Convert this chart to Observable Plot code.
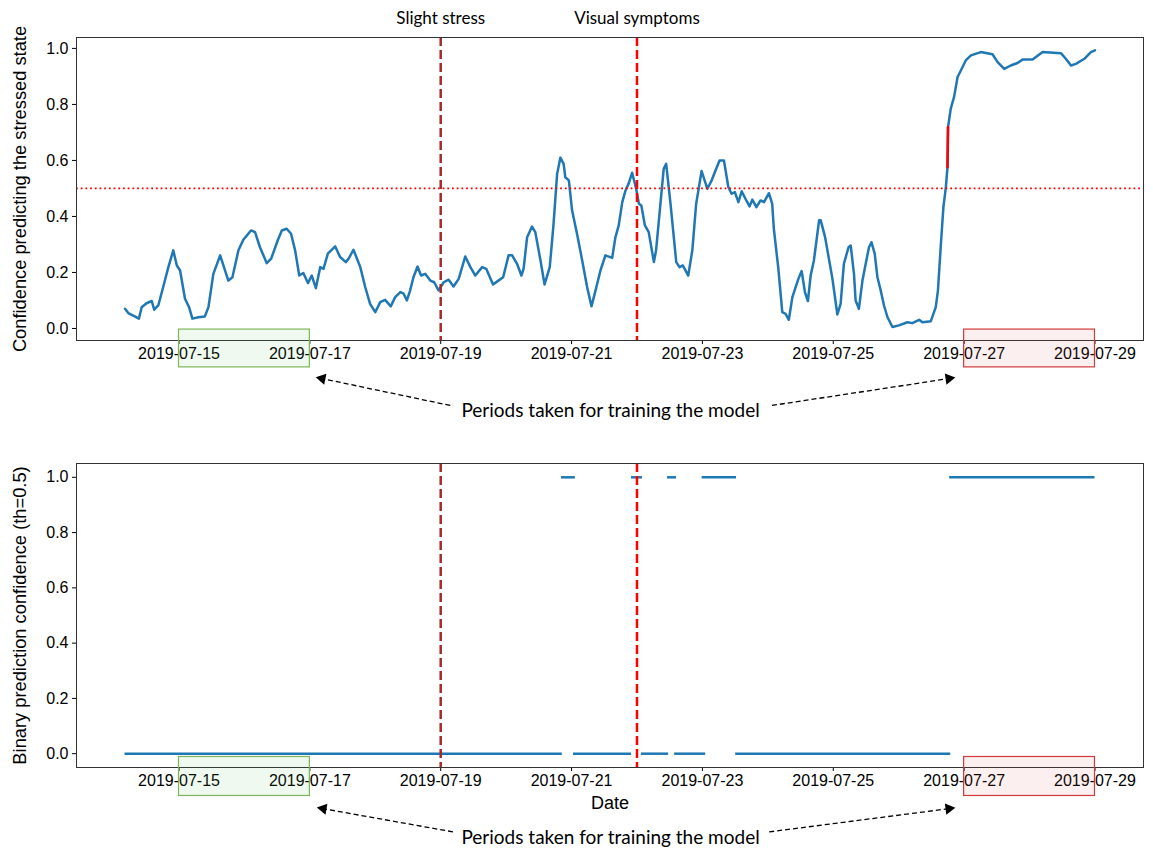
<!DOCTYPE html>
<html><head><meta charset="utf-8">
<script src="https://cdn.jsdelivr.net/npm/d3@7"></script>
<script src="https://cdn.jsdelivr.net/npm/@observablehq/plot@0.6"></script>
<style>body{margin:0;background:#fff} #chart svg{display:block}</style>
</head><body><div id="chart"></div>
<script>
// ---- data (hours since 2019-07-14 00:00 UTC) ----
const confHours = [4.2,5.4,7.2,9.3,10.3,12.1,14.0,14.9,16.4,18.2,20.1,21.9,23.2,24.4,26.2,27.7,28.9,31.1,33.5,34.8,36.6,39.1,42.1,43.6,45.8,47.6,50.4,51.9,53.7,56.2,57.8,60.2,61.7,63.5,65.1,66.6,68.1,69.6,71.3,72.7,74.2,75.8,77.0,78.6,79.8,81.3,83.1,85.2,86.2,88.0,89.3,
90.5,92.3,94.1,96.0,97.8,99.6,101.7,103.3,105.2,106.4,107.6,108.8,110.0,111.5,112.8,114.3,116.2,117.6,119.2,121.1,122.9,124.7,126.6,129.0,130.9,132.7,135.2,136.7,139.2,140.9,142.9,144.9,146.2,148.0,149.6,150.4,151.7,153.5,154.7,156.6,158.1,160.0,161.4,162.7,163.9,165.1,165.7,167.0,168.2,170.0,171.9,173.7,175.3,176.8,178.6,
180.4,182.9,184.1,185.3,186.6,187.8,189.0,190.2,191.7,192.7,193.6,194.9,196.3,198.2,199.0,200.6,201.8,202.7,204.3,206.4,207.6,208.8,210.8,212.3,213.7,215.7,217.8,219.4,220.8,222.3,223.9,225.5,226.7,227.9,229.2,230.4,232.1,233.3,234.3,235.8,237.3,238.6,240.4,241.6,242.2,243.8,245.3,246.5,247.7,249.0,250.2,251.2,252.4,253.6,254.7,255.7,256.9,258.8,259.4,261.0,262.4,263.7,265.5,266.7,267.9,269.6,270.4,
271.6,272.2,273.4,274.7,275.9,277.1,278.0,279.2,280.2,281.4,282.6,283.9,285.7,288.1,291.2,293.0,295.5,296.7,299.8,301.6,302.4,303.4,304.4,305.3,305.9,306.1,307.1,308.3,309.6,310.8,312.6,314.5,318.1,322.4,324.3,326.7,329.1,331.6,333.4,337.1,340.8,347.5,349.3,351.2,353.0,356.1,358.5,360.0];
const confValues = [0.070,0.055,0.046,0.035,0.076,0.090,0.098,0.067,0.082,0.148,0.219,0.279,0.225,0.207,0.106,0.076,0.035,0.040,0.043,0.076,0.195,0.261,0.171,0.183,0.279,0.317,0.350,0.344,0.290,0.233,0.249,0.314,0.350,0.356,0.338,0.279,0.189,0.198,0.162,0.189,0.144,0.219,0.213,0.267,0.279,0.293,0.255,0.237,0.249,0.281,0.249,
0.219,0.148,0.088,0.058,0.094,0.102,0.079,0.112,0.130,0.124,0.100,0.136,0.183,0.221,0.189,0.195,0.171,0.165,0.136,0.165,0.174,0.150,0.177,0.257,0.219,0.189,0.219,0.213,0.157,0.169,0.183,0.261,0.261,0.231,0.189,0.213,0.326,0.364,0.344,0.243,0.157,0.219,0.374,0.552,0.610,0.588,0.540,0.529,0.421,0.338,0.243,0.148,0.079,0.136,0.207,
0.261,0.252,0.326,0.368,0.451,0.493,0.519,0.556,0.499,0.445,0.439,0.368,0.344,0.237,0.279,0.445,0.570,0.588,0.445,0.237,0.219,0.225,0.189,0.279,0.445,0.562,0.499,0.529,0.564,0.600,0.600,0.505,0.481,0.487,0.451,0.490,0.457,0.436,0.460,0.433,0.457,0.451,0.483,0.445,0.356,0.219,0.058,0.052,0.031,0.112,0.148,0.177,0.205,0.130,0.098,0.189,0.243,0.386,0.386,0.326,0.249,0.177,0.050,0.088,0.231,0.290,0.296,
0.195,0.100,0.070,0.171,0.231,0.290,0.308,0.267,0.183,0.136,0.082,0.040,0.005,0.011,0.022,0.019,0.031,0.022,0.026,0.076,0.136,0.290,0.433,0.505,0.576,0.719,0.785,0.826,0.898,0.921,0.957,0.975,0.987,0.979,0.951,0.927,0.939,0.948,0.960,0.960,0.987,0.983,0.963,0.939,0.945,0.963,0.987,0.993];
const highlightHours = [305.9, 306.1];
const highlightValues = [0.576, 0.719];
const binStartHours = [4.2,164.3,168.7,190.0,193.6,203.2,205.8,215.9,228.2,306.7];
const binEndHours   = [164.6,169.4,190.0,194.0,203.6,206.5,217.2,228.5,307.1,360.0];
const binValues     = [0,1,0,1,0,1,0,1,0,1];
const tickDates = ["2019-07-15","2019-07-17","2019-07-19","2019-07-21","2019-07-23","2019-07-25","2019-07-27","2019-07-29"];
const yTicks = [0,0.2,0.4,0.6,0.8,1.0];
const eventDates = ["2019-07-19","2019-07-22"];
const eventLabels = ["Slight stress","Visual symptoms"];
const trainStarts = ["2019-07-15","2019-07-27"];
const trainEnds = ["2019-07-17","2019-07-29"];
const threshold = 0.5;
const topYLabel = "Confidence predicting the stressed state";
const bottomYLabel = "Binary prediction confidence (th=0.5)";
const xLabel = "Date";
const noteText = "Periods taken for training the model";

// ---- build ----
const t0 = Date.UTC(2019, 6, 14);
const toDate = h => new Date(t0 + h * 3600e3);
const conf = confHours.map((h, i) => ({date: toDate(h), value: confValues[i]}));
const highlight = highlightHours.map((h, i) => ({date: toDate(h), value: highlightValues[i]}));
const bins = binStartHours.map((h, i) => ({start: toDate(h), end: toDate(binEndHours[i]), value: binValues[i]}));
const ticks = tickDates.map(d => new Date(d));
const events = eventDates.map((d, i) => ({date: new Date(d), label: eventLabels[i]}));
const periods = trainStarts.map((d, i) => ({start: new Date(d), end: new Date(trainEnds[i]), i}));
const xDomain = [toDate(-13.6), toDate(377.8)];
const fmt = d3.utcFormat("%Y-%m-%d");
const BLUE = "#1f77b4";
const CAL = "Lato, 'Open Sans', sans-serif";

function common(opts) {
  const {yLabel, rectY, arrows, noteY, extra} = opts;
  return [
    Plot.axisX({ticks, tickFormat: fmt, tickSize: 4, tickPadding: 3, label: null, fontSize: 16}),
    Plot.axisY({ticks: yTicks, tickFormat: d3.format(".1f"), tickSize: 4, tickPadding: 4, label: null, fontSize: 16}),
    ...extra,
    Plot.ruleX([events[0]], {x: "date", stroke: "#a52a2a", strokeWidth: 2.5, strokeDasharray: "9,4"}),
    Plot.ruleX([events[1]], {x: "date", stroke: "#ff0000", strokeWidth: 2.5, strokeDasharray: "9,4"}),
    Plot.frame({stroke: "#333", strokeWidth: 1}),
    Plot.text([yLabel], {text: d => d, frameAnchor: "left", dx: -56, rotate: -90, textAnchor: "middle", lineAnchor: "middle", fontSize: 18.3}),
    Plot.rect([periods[0]], {x1: "start", x2: "end", y1: rectY[0], y2: rectY[1], fill: "#5cb85c", fillOpacity: 0.09, stroke: "#7cb65a", strokeWidth: 1.2}),
    Plot.rect([periods[1]], {x1: "start", x2: "end", y1: rectY[0], y2: rectY[1], fill: "#e05050", fillOpacity: 0.09, stroke: "#d03a3a", strokeWidth: 1.2}),
    Plot.link(arrows, {x1: d => toDate(d.th), y1: "ty", x2: d => toDate(d.hh), y2: "hy", stroke: "#000", strokeWidth: 1.3, strokeDasharray: "5,3"}),
    Plot.dot(arrows, {x: d => toDate(d.hh), y: "hy", symbol: "triangle", r: 4.2, fill: "#000", stroke: null, rotate: "angle"}),
    Plot.text([noteText], {text: d => d, x: () => toDate(182.3), y: () => noteY, fontSize: 19, fontFamily: CAL, lineAnchor: "middle"})
  ];
}

const topPlot = Plot.plot({
  width: 1153, height: 430,
  marginLeft: 76, marginRight: 10, marginTop: 37, marginBottom: 90,
  style: {fontFamily: "'Liberation Sans', Arial, sans-serif", fontSize: "16px", color: "#000", background: "#fff", overflow: "visible"},
  x: {type: "utc", domain: xDomain},
  y: {domain: [-0.043, 1.039]},
  marks: [
    ...common({
      yLabel: topYLabel, rectY: [-0.004, -0.139], noteY: -0.293,
      arrows: [
        {th: 123.5, ty: -0.275, hh: 76.5, hy: -0.179, angle: -78.6},
        {th: 241.5, ty: -0.275, hh: 306.4, hy: -0.179, angle: 81.5}
      ],
      extra: [
        Plot.lineY(conf, {x: "date", y: "value", stroke: BLUE, strokeWidth: 2.5}),
        Plot.lineY(highlight, {x: "date", y: "value", stroke: "#ff0000", strokeWidth: 2.5}),
        Plot.ruleY([threshold], {stroke: "#ff0000", strokeWidth: 1.8, strokeDasharray: "1.8,2.9"})
      ]
    }),
    Plot.text(events, {x: "date", text: "label", frameAnchor: "top", dy: -19, lineAnchor: "middle", fontSize: 17, fontFamily: CAL})
  ]
});

const bottomPlot = Plot.plot({
  width: 1153, height: 421,
  marginLeft: 76, marginRight: 10, marginTop: 33, marginBottom: 84,
  style: {fontFamily: "'Liberation Sans', Arial, sans-serif", fontSize: "16px", color: "#000", background: "#fff", overflow: "visible"},
  x: {type: "utc", domain: xDomain},
  y: {domain: [-0.05, 1.05]},
  marks: [
    ...common({
      yLabel: bottomYLabel, rectY: [-0.012, -0.153], noteY: -0.304,
      arrows: [
        {th: 124.5, ty: -0.283, hh: 76.9, hy: -0.199, angle: -80.4},
        {th: 240.5, ty: -0.283, hh: 306.4, hy: -0.199, angle: 82.8}
      ],
      extra: [
        Plot.ruleY(bins, {y: "value", x1: "start", x2: "end", stroke: BLUE, strokeWidth: 2.5})
      ]
    }),
    Plot.text([xLabel], {text: d => d, frameAnchor: "bottom", dy: 36, lineAnchor: "middle", fontSize: 18})
  ]
});

document.getElementById("chart").append(topPlot, bottomPlot);
</script>
</body></html>
